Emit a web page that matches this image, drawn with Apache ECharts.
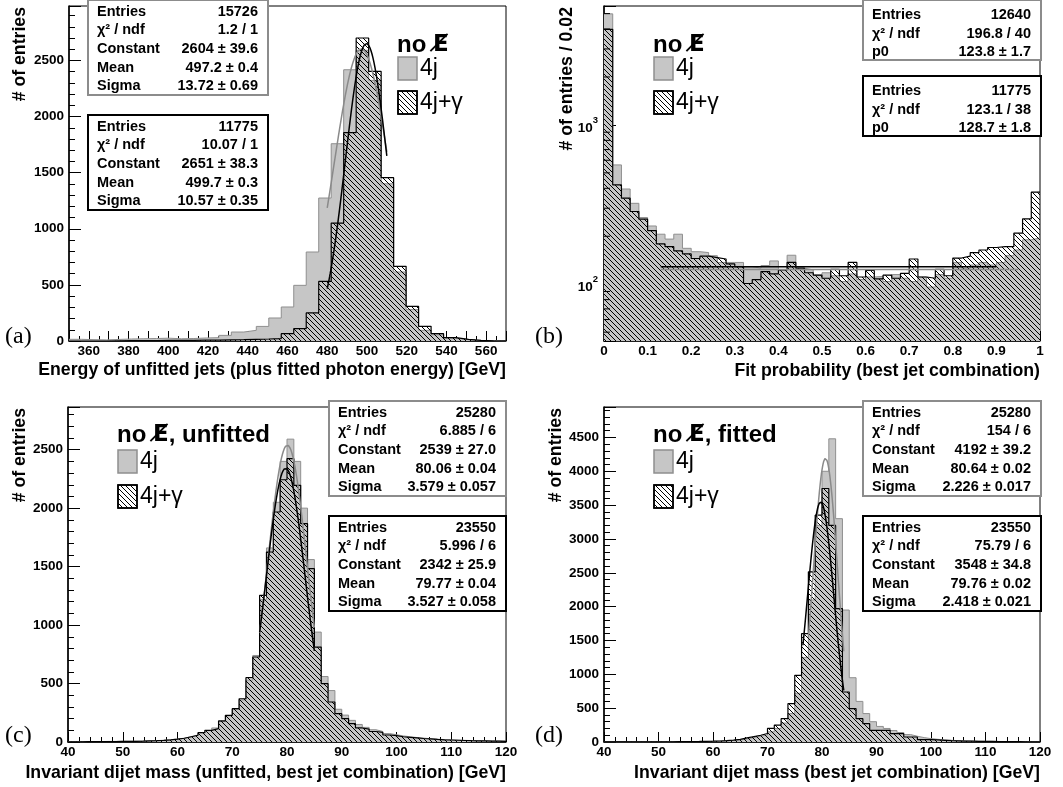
<!DOCTYPE html>
<html>
<head>
<meta charset="utf-8">
<title>Jet energy, fit probability and dijet mass</title>
<script src="https://cdn.jsdelivr.net/npm/echarts@6.0.0/dist/echarts.min.js"></script>
<style>
  html, body { margin: 0; padding: 0; background: #fff; }
  #chart { width: 1063px; height: 787px; }
</style>
</head>
<body>
<div id="chart"></div>
<script>
// (a) energy of unfitted jets, 35 bins from 350 to 570 GeV
const energyRange = [350, 570]
const energy4j = [15, 12, 10, 14, 18, 20, 22, 25, 20, 22,
  27, 30, 50, 80, 95, 130, 205, 303, 496, 793,
  1274, 1758, 2417, 2590, 2322, 1401, 615, 280, 95, 55,
  25, 12, 5, 2, 0]
const energy4jGamma = [0, 0, 0, 2, 3, 3, 4, 5, 5, 6,
  8, 8, 10, 12, 15, 18, 22, 65, 110, 250,
  531, 1051, 1856, 2700, 2402, 1455, 665, 309, 131, 65,
  30, 15, 6, 2, 0]

// (b) fit probability, 50 bins of 0.02
const probRange = [0, 1]
const prob4j = [4980, 561, 396, 322, 262, 232, 206, 192, 206, 168,
  160, 158, 151, 137, 137, 137, 129, 126, 131, 140,
  123, 152, 126, 123, 114, 118, 113, 104, 116, 107,
  111, 112, 104, 115, 109, 104, 111, 96, 115, 109,
  137, 126, 132, 137, 132, 137, 151, 164, 190, 195]
const prob4jGamma = [3980, 420, 347, 286, 256, 217, 179, 172, 162, 155,
  145, 150, 147, 144, 134, 129, 101, 107, 120, 116,
  123, 137, 126, 118, 114, 109, 124, 113, 137, 111,
  122, 108, 114, 109, 117, 144, 111, 109, 124, 113,
  146, 150, 158, 164, 170, 172, 172, 209, 257, 378]

// (c) unfitted dijet mass, 64 bins from 40 to 120 GeV
const massRange = [40, 120]
const massUnfitted4j = [3, 3, 4, 4, 4, 5, 5, 6, 6, 7, 8, 10, 12, 15, 19, 25, 33,
  45, 60, 80, 98, 120, 175, 225, 280, 360,
  530, 740, 1220, 1660, 2050, 2400, 2590, 2400, 2000, 1560, 940, 560, 440, 280,
  230, 185, 150, 125, 105, 90, 72, 62, 52, 45, 38, 33, 28, 24, 21, 18, 16, 14, 12, 11, 10, 9, 8, 7]
const massUnfitted4jGamma = [2, 2, 3, 3, 3, 4, 4, 5, 5, 6, 7, 9, 11, 14, 18, 24, 32,
  45, 58, 80, 100, 114, 180, 228, 285, 370,
  550, 727, 1254, 1625, 1967, 2243, 2423, 2195, 1867, 1482, 812, 499, 342, 242,
  200, 157, 120, 110, 90, 82, 60, 55, 45, 40, 35, 30, 26, 22, 19, 17, 15, 13, 11, 10, 9, 8, 7, 6]

// (d) fitted dijet mass, same binning
const massFitted4j = [1, 1, 1, 2, 2, 2, 3, 3, 3, 4, 4, 5, 6, 7, 8, 10,
  12, 16, 22, 30, 45, 65,
  85, 105, 150, 200, 280, 420, 720, 1250, 2100, 3200,
  4000, 4480, 3300, 1950, 950, 600, 420, 300, 230, 200,
  170, 140, 110, 85, 65, 50, 40, 32, 25, 20, 17, 14, 12, 10, 9, 8, 7, 6, 5, 5, 4, 4]
const massFitted4jGamma = [1, 1, 2, 2, 2, 3, 3, 3, 4, 4, 5, 6, 7, 8, 10, 12,
  15, 20, 28, 40, 60, 80,
  100, 125, 200, 250, 345, 567, 985, 1600, 2514, 3352,
  3746, 3200, 1972, 739, 493, 345, 271, 172, 172, 172,
  123, 123, 74, 74, 35, 35, 30, 25, 20, 17, 14, 12, 10, 9, 8, 7, 6, 5, 5, 4, 4, 3]

// fit results (gaussian: constant, mean, sigma, fit range)
const fitA4j = [2604, 497.2, 13.72, 480, 510]
const fitA4jGamma = [2651, 499.7, 10.57, 480, 510]
const fitB4j = [123.8, 0.13, 0.95] // pol0
const fitB4jGamma = [128.7, 0.13, 0.9]
const fitC4j = [2539, 80.06, 3.579, 75, 85]
const fitC4jGamma = [2342, 79.77, 3.527, 75, 85]
const fitD4j = [4192, 80.64, 2.226, 77.5, 84]
const fitD4jGamma = [3548, 79.76, 2.418, 76.5, 84]

// stat boxes
const statsA4j = [['Entries', '15726'], ['χ² / ndf', '1.2 / 1'], ['Constant', '2604 ± 39.6'], ['Mean', '497.2 ± 0.4'], ['Sigma', '13.72 ± 0.69']]
const statsA4jGamma = [['Entries', '11775'], ['χ² / ndf', '10.07 / 1'], ['Constant', '2651 ± 38.3'], ['Mean', '499.7 ± 0.3'], ['Sigma', '10.57 ± 0.35']]
const statsB4j = [['Entries', '12640'], ['χ² / ndf', '196.8 / 40'], ['p0', '123.8 ± 1.7']]
const statsB4jGamma = [['Entries', '11775'], ['χ² / ndf', '123.1 / 38'], ['p0', '128.7 ± 1.8']]
const statsC4j = [['Entries', '25280'], ['χ² / ndf', '6.885 / 6'], ['Constant', '2539 ± 27.0'], ['Mean', '80.06 ± 0.04'], ['Sigma', '3.579 ± 0.057']]
const statsC4jGamma = [['Entries', '23550'], ['χ² / ndf', '5.996 / 6'], ['Constant', '2342 ± 25.9'], ['Mean', '79.77 ± 0.04'], ['Sigma', '3.527 ± 0.058']]
const statsD4j = [['Entries', '25280'], ['χ² / ndf', '154 / 6'], ['Constant', '4192 ± 39.2'], ['Mean', '80.64 ± 0.02'], ['Sigma', '2.226 ± 0.017']]
const statsD4jGamma = [['Entries', '23550'], ['χ² / ndf', '75.79 / 6'], ['Constant', '3548 ± 34.8'], ['Mean', '79.76 ± 0.02'], ['Sigma', '2.418 ± 0.021']]

const SANS = '"Liberation Sans", Arial, Helvetica, sans-serif'
const GRAY_FILL = '#c6c6c6'
const GRAY_LINE = '#8f8f8f'
const TITLE_SIZE = 17.7

// diagonal hatching, transparent background
function hatchCanvas() {
  const s = 5
  const c = document.createElement('canvas')
  c.width = s
  c.height = s
  const ctx = c.getContext('2d')
  ctx.strokeStyle = '#000'
  ctx.lineWidth = 1
  ctx.beginPath()
  for (const o of [-s, 0, s]) {
    ctx.moveTo(o - 1, -1)
    ctx.lineTo(o + s + 1, s + 1)
  }
  ctx.stroke()
  return c
}
const hatch = { image: hatchCanvas(), repeat: 'repeat' }

// bin contents -> step outline points
function steps(range, counts) {
  const w = (range[1] - range[0]) / counts.length
  const pts = counts.map((c, i) => [range[0] + i * w, c])
  pts.push([range[1], counts[counts.length - 1]])
  return pts
}

function gaus(fit) {
  const [c, m, s, lo, hi] = fit
  const pts = []
  for (let i = 0; i <= 120; i++) {
    const x = lo + (hi - lo) * i / 120
    pts.push([x, c * Math.exp(-0.5 * ((x - m) / s) ** 2)])
  }
  return pts
}

function histSeries(idx, range, counts, hatched) {
  return {
    type: 'line',
    xAxisIndex: idx,
    yAxisIndex: idx,
    step: 'end',
    showSymbol: false,
    silent: true,
    data: steps(range, counts),
    lineStyle: hatched ? { color: '#000', width: 1.2 } : { color: GRAY_LINE, width: 1 },
    areaStyle: { color: hatched ? hatch : GRAY_FILL, opacity: 1, origin: 'start' },
    z: hatched ? 3 : 2
  }
}

function fitSeries(idx, data, color) {
  return {
    type: 'line',
    xAxisIndex: idx,
    yAxisIndex: idx,
    showSymbol: false,
    silent: true,
    data: data,
    lineStyle: { color: color, width: 1.5 },
    z: 4
  }
}

const grids = [
  { left: 69, top: 6, width: 437, height: 335 },
  { left: 604, top: 6, width: 436, height: 335 },
  { left: 68, top: 407, width: 438, height: 335 },
  { left: 604, top: 407, width: 436, height: 335 }
].map(g => Object.assign(g, {
  show: true,
  borderColor: '#000',
  borderWidth: 1,
  backgroundColor: 'transparent',
  containLabel: false,
  outerBoundsMode: 'none'
}))

const labelStyle = { color: '#000', fontFamily: SANS, fontWeight: 'bold', fontSize: 13.5 }

function xAxis(idx, range, interval, minorSplit, title, pad, formatter) {
  return {
    type: 'value',
    gridIndex: idx,
    min: range[0],
    max: range[1],
    interval: interval,
    name: title,
    nameLocation: 'end',
    nameGap: 0,
    nameMoveOverlap: false,
    nameTextStyle: { fontFamily: SANS, fontWeight: 'bold', fontSize: TITLE_SIZE, color: '#000', align: 'right', verticalAlign: 'top', padding: [pad, 0, 0, 0] },
    axisLine: { show: true, lineStyle: { color: '#000', width: 1.5 } },
    axisTick: { show: true, inside: true, length: 10, lineStyle: { color: '#000' } },
    minorTick: { show: true, splitNumber: minorSplit, length: 5, lineStyle: { color: '#000' } },
    splitLine: { show: false },
    axisLabel: Object.assign({ margin: 3, formatter: formatter }, labelStyle)
  }
}

function yAxis(idx, max, title, pad) {
  return {
    type: 'value',
    gridIndex: idx,
    min: 0,
    max: max,
    interval: 500,
    name: title,
    nameLocation: 'end',
    nameGap: -1,
    nameRotate: 90,
    nameMoveOverlap: false,
    nameTextStyle: { fontFamily: SANS, fontWeight: 'bold', fontSize: TITLE_SIZE, color: '#000', align: 'right', verticalAlign: 'bottom', padding: [0, 0, pad, 0] },
    axisLine: { show: true, lineStyle: { color: '#000', width: 1.5 } },
    axisTick: { show: true, inside: true, length: 12, lineStyle: { color: '#000' } },
    minorTick: { show: true, splitNumber: 5, length: 6, lineStyle: { color: '#000' } },
    splitLine: { show: false },
    axisLabel: Object.assign({ margin: 5, formatter: v => (v % 500 === 0 ? String(v) : '') }, labelStyle)
  }
}

const logAxis = {
  type: 'log',
  gridIndex: 1,
  logBase: 10,
  min: 44,
  max: 5580,
  name: '# of entries / 0.02',
  nameLocation: 'end',
  nameGap: -1,
  nameRotate: 90,
  nameMoveOverlap: false,
  nameTextStyle: { fontFamily: SANS, fontWeight: 'bold', fontSize: TITLE_SIZE, color: '#000', align: 'right', verticalAlign: 'bottom', padding: [0, 0, 28, 0] },
  axisLine: { show: true, lineStyle: { color: '#000', width: 1.5 } },
  axisTick: { show: true, inside: true, length: 12, lineStyle: { color: '#000' } },
  splitLine: { show: false },
  axisLabel: {
    margin: 6,
    color: '#000',
    formatter: v => {
      const e = Math.log10(v)
      const r = Math.round(e)
      return Math.abs(e - r) < 1e-6 ? '{b|10}{s|' + r + '}' : ''
    },
    rich: {
      b: { fontFamily: SANS, fontWeight: 'bold', fontSize: 13.5, color: '#000', lineHeight: 20, verticalAlign: 'bottom' },
      s: { fontFamily: SANS, fontWeight: 'bold', fontSize: 9.5, color: '#000', lineHeight: 20, verticalAlign: 'top' }
    }
  }
}

// minor ticks 2..9 of each decade on the log axis
const logMinorTicks = []
for (let d = 1; d <= 3; d++) {
  for (let m = 2; m <= 9; m++) {
    const v = m * Math.pow(10, d)
    if (v > 44 && v < 5580) logMinorTicks.push([0, v])
  }
}

// ---- graphic overlays: stat boxes, legends, panel letters
const graphics = []

function statBox(left, top, width, rows, border) {
  const h = rows.length === 5 ? 95 : 60
  const offs = rows.length === 5 ? [11.5, 29.5, 49, 68, 86] : [15, 33.5, 52]
  graphics.push({ type: 'rect', z: 100, shape: { x: left, y: top, width: width, height: h }, style: { fill: '#fff', stroke: border, lineWidth: 2 } })
  rows.forEach((r, i) => {
    graphics.push({ type: 'text', z: 101, x: left + 9, y: top + offs[i], style: { text: r[0], font: 'bold 14.5px ' + SANS, fill: '#000', align: 'left', verticalAlign: 'middle' } })
    graphics.push({ type: 'text', z: 101, x: left + width - 10, y: top + offs[i], style: { text: r[1], font: 'bold 14.5px ' + SANS, fill: '#000', align: 'right', verticalAlign: 'middle' } })
  })
}

function legendBlock(x, titleY, suffix, box1Y, box2Y) {
  // "no E-slash": the slash is a combining long solidus, set in DejaVu so it overlays the E
  graphics.push({
    type: 'text', z: 101, x: x - 1, y: titleY,
    style: {
      text: '{a|no }{e|E\u0338}{a|' + suffix + '}',
      fill: '#000', align: 'left', verticalAlign: 'middle',
      rich: {
        a: { fontFamily: SANS, fontWeight: 'bold', fontSize: 24, fill: '#000' },
        e: { fontFamily: '"DejaVu Sans"', fontWeight: 'bold', fontSize: 23, fill: '#000' }
      }
    }
  })
  graphics.push({ type: 'rect', z: 100, shape: { x: x, y: box1Y, width: 19, height: 23 }, style: { fill: GRAY_FILL, stroke: GRAY_LINE, lineWidth: 1.5 } })
  graphics.push({ type: 'text', z: 101, x: x + 22, y: box1Y + 12, style: { text: '4j', font: '23px ' + SANS, fill: '#000', align: 'left', verticalAlign: 'middle' } })
  graphics.push({ type: 'rect', z: 100, shape: { x: x, y: box2Y, width: 19, height: 23 }, style: { fill: '#fff', stroke: '#000', lineWidth: 1.5 } })
  graphics.push({ type: 'rect', z: 100, shape: { x: x, y: box2Y, width: 19, height: 23 }, style: { fill: hatch, stroke: '#000', lineWidth: 1.5 } })
  graphics.push({ type: 'text', z: 101, x: x + 22, y: box2Y + 12, style: { text: '4j+γ', font: '23px ' + SANS, fill: '#000', align: 'left', verticalAlign: 'middle' } })
}

function panelLetter(x, y, t) {
  graphics.push({ type: 'text', z: 101, x: x, y: y, style: { text: t, font: '24px "Liberation Serif", "DejaVu Serif", serif', fill: '#000', align: 'left', verticalAlign: 'middle' } })
}

statBox(88, 0, 180, statsA4j, '#8c8c8c')
statBox(88, 115, 180, statsA4jGamma, '#000')
statBox(863, 0, 178, statsB4j, '#8c8c8c')
statBox(863, 76, 178, statsB4jGamma, '#000')
statBox(329, 401, 177, statsC4j, '#8c8c8c')
statBox(329, 516, 177, statsC4jGamma, '#000')
statBox(863, 401, 178, statsD4j, '#8c8c8c')
statBox(863, 516, 178, statsD4jGamma, '#000')

legendBlock(398, 45, '', 57, 91)
legendBlock(654, 45, '', 57, 91)
legendBlock(118, 435, ', unfitted', 450, 485)
legendBlock(654, 435, ', fitted', 450, 485)

panelLetter(5, 337, '(a)')
panelLetter(535, 337, '(b)')
panelLetter(5, 736, '(c)')
panelLetter(535, 736, '(d)')

const option = {
  animation: false,
  backgroundColor: '#fff',
  grid: grids,
  xAxis: [
    xAxis(0, energyRange, 10, 2, 'Energy of unfitted jets (plus fitted photon energy) [GeV]', 20, v => (v % 20 === 0 ? String(v) : '')),
    xAxis(1, probRange, 0.1, 5, 'Fit probability (best jet combination)', 21),
    xAxis(2, massRange, 10, 5, 'Invariant dijet mass (unfitted, best jet combination) [GeV]', 22),
    xAxis(3, massRange, 10, 5, 'Invariant dijet mass (best jet combination) [GeV]', 22)
  ],
  yAxis: [
    yAxis(0, 2985, '# of entries', 40),
    logAxis,
    yAxis(2, 2865, '# of entries', 39),
    yAxis(3, 4950, '# of entries', 39)
  ],
  series: [
    histSeries(0, energyRange, energy4j, false),
    histSeries(0, energyRange, energy4jGamma, true),
    fitSeries(0, gaus(fitA4j), '#8a8a8a'),
    fitSeries(0, gaus(fitA4jGamma), '#000'),

    histSeries(1, probRange, prob4j, false),
    histSeries(1, probRange, prob4jGamma, true),
    fitSeries(1, [[fitB4j[1], fitB4j[0]], [fitB4j[2], fitB4j[0]]], '#8a8a8a'),
    fitSeries(1, [[fitB4jGamma[1], fitB4jGamma[0]], [fitB4jGamma[2], fitB4jGamma[0]]], '#000'),
    {
      type: 'custom',
      xAxisIndex: 1,
      yAxisIndex: 1,
      silent: true,
      z: 5,
      data: logMinorTicks,
      renderItem: (params, api) => {
        const p = api.coord([api.value(0), api.value(1)])
        return { type: 'line', shape: { x1: p[0], y1: p[1], x2: p[0] + 6, y2: p[1] }, style: { stroke: '#000', lineWidth: 1 } }
      }
    },

    histSeries(2, massRange, massUnfitted4j, false),
    histSeries(2, massRange, massUnfitted4jGamma, true),
    fitSeries(2, gaus(fitC4j), '#8a8a8a'),
    fitSeries(2, gaus(fitC4jGamma), '#000'),

    histSeries(3, massRange, massFitted4j, false),
    histSeries(3, massRange, massFitted4jGamma, true),
    fitSeries(3, gaus(fitD4j), '#8a8a8a'),
    fitSeries(3, gaus(fitD4jGamma), '#000')
  ],
  graphic: { elements: graphics }
}

const chart = echarts.init(document.getElementById('chart'))
chart.setOption(option)
</script>
</body>
</html>
